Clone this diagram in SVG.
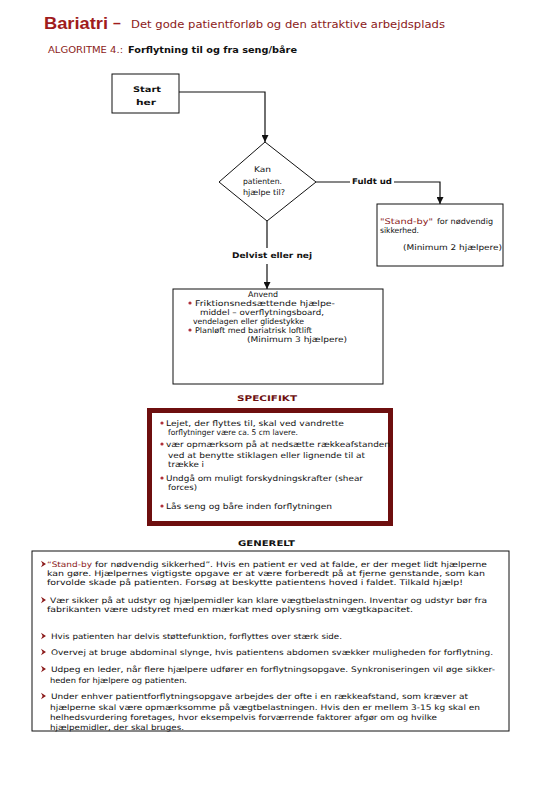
<svg xmlns="http://www.w3.org/2000/svg" width="540" height="794" viewBox="0 0 540 794">
<defs>
<style>
text{font-family:"DejaVu Sans","Verdana",sans-serif;fill:#111;}
.t{font-size:7.6px;}
.s{font-size:7.8px;}
.b{font-weight:bold;}
.red{fill:#8b1a1a;}
.box{fill:#fff;stroke:#111;stroke-width:1;}
.ln{fill:none;stroke:#111;stroke-width:1.2;}
.dot{fill:#b0303a;}
</style>
<marker id="ah" viewBox="0 0 10 10" refX="10" refY="5" markerWidth="7" markerHeight="7" markerUnits="userSpaceOnUse" orient="auto">
<path d="M0,0 L10,5 L0,10 z" fill="#111"/>
</marker>
<path id="arr" d="M0,-3.2 L5,0 L0,3.2 L1.6,0 z" fill="#8b1a1a"/>
</defs>
<rect width="540" height="794" fill="#fff"/>

<g id="title">
<text x="44" y="29" style="font-family:'Liberation Sans',Arial,sans-serif;font-size:17px;font-weight:bold;fill:#a01c1c" textLength="64" lengthAdjust="spacingAndGlyphs">Bariatri</text>
<text x="113" y="28" style="font-family:'Liberation Sans',Arial,sans-serif;font-size:14px;font-weight:bold;fill:#a01c1c">–</text>
<text x="131" y="28" class="red" style="font-size:11px" textLength="314" lengthAdjust="spacingAndGlyphs">Det gode patientforløb og den attraktive arbejdsplads</text>
<text x="48" y="53" class="red" style="font-size:8.5px" textLength="75" lengthAdjust="spacingAndGlyphs">ALGORITME 4.:</text>
<text x="128" y="53" class="b" style="font-size:8.5px" textLength="169" lengthAdjust="spacingAndGlyphs">Forflytning til og fra seng/båre</text>
</g>

<g id="connectors">
<polyline class="ln" points="179,92 265,92 265,142" marker-end="url(#ah)"/>
<polyline class="ln" points="316,182 350,182"/>
<polyline class="ln" points="394,182 440,182 440,204" marker-end="url(#ah)"/>
<polyline class="ln" points="267,221 267,248"/>
<polyline class="ln" points="267,264 267,289" marker-end="url(#ah)"/>
<text x="352" y="184" class="s b" textLength="40" lengthAdjust="spacingAndGlyphs">Fuldt ud</text>
<text x="232" y="258" class="s b" textLength="80" lengthAdjust="spacingAndGlyphs">Delvist eller nej</text>
</g>

<g id="start">
<rect class="box" x="112" y="74" width="67" height="39"/>
<text x="133" y="92" class="s b" textLength="28" lengthAdjust="spacingAndGlyphs">Start</text>
<text x="136" y="105" class="s b" textLength="20" lengthAdjust="spacingAndGlyphs">her</text>
</g>

<g id="decision">
<polygon class="box" points="265,142 316,182 267,221 219,182"/>
<text x="254" y="172" class="s" textLength="17" lengthAdjust="spacingAndGlyphs">Kan</text>
<text x="243" y="184" class="s" textLength="39" lengthAdjust="spacingAndGlyphs">patienten.</text>
<text x="243" y="195" class="s" textLength="42" lengthAdjust="spacingAndGlyphs">hjælpe til?</text>
</g>

<g id="standby">
<rect class="box" x="377" y="204" width="126" height="62"/>
<text x="380" y="224" class="s red" textLength="53" lengthAdjust="spacingAndGlyphs">"Stand-by"</text>
<text x="437" y="224" class="s" textLength="56" lengthAdjust="spacingAndGlyphs">for nødvendig</text>
<text x="380" y="233" class="s" textLength="39" lengthAdjust="spacingAndGlyphs">sikkerhed.</text>
<text x="403" y="250" class="s" textLength="99" lengthAdjust="spacingAndGlyphs">(Minimum 2 hjælpere)</text>
</g>

<g id="anvend">
<rect class="box" x="173" y="289" width="210" height="95"/>
<text x="248" y="297" class="s" textLength="30" lengthAdjust="spacingAndGlyphs">Anvend</text>
<circle class="dot" cx="190" cy="303" r="1.6"/>
<text x="195" y="306" class="s" textLength="140" lengthAdjust="spacingAndGlyphs">Friktionsnedsættende hjælpe-</text>
<text x="200" y="315" class="s" textLength="124" lengthAdjust="spacingAndGlyphs">middel – overflytningsboard,</text>
<text x="193" y="324" class="s" textLength="111" lengthAdjust="spacingAndGlyphs">vendelagen eller glidestykke</text>
<circle class="dot" cx="190" cy="330" r="1.6"/>
<text x="195" y="333" class="s" textLength="117" lengthAdjust="spacingAndGlyphs">Planløft med bariatrisk loftlift</text>
<text x="247" y="342" class="s" textLength="100" lengthAdjust="spacingAndGlyphs">(Minimum 3 hjælpere)</text>
</g>

<g id="specifikt">
<text x="237" y="401" class="s b" style="fill:#6e0f0f" textLength="60" lengthAdjust="spacingAndGlyphs">SPECIFIKT</text>
<rect x="149.5" y="410.5" width="241" height="113" fill="#fff" stroke="#6e0f0f" stroke-width="5"/>
<circle class="dot" cx="162" cy="423" r="1.6"/>
<text x="166" y="426" class="s" textLength="178" lengthAdjust="spacingAndGlyphs">Lejet, der flyttes til, skal ved vandrette</text>
<text x="168" y="435" class="s" textLength="130" lengthAdjust="spacingAndGlyphs">forflytninger være ca. 5 cm lavere.</text>
<circle class="dot" cx="162" cy="444" r="1.6"/>
<text x="166" y="447" class="s" textLength="224" lengthAdjust="spacingAndGlyphs">vær opmærksom på at nedsætte rækkeafstanden</text>
<text x="168" y="458" class="s" textLength="197" lengthAdjust="spacingAndGlyphs">ved at benytte stiklagen eller lignende til at</text>
<text x="168" y="467" class="s" textLength="36" lengthAdjust="spacingAndGlyphs">trække i</text>
<circle class="dot" cx="162" cy="478" r="1.6"/>
<text x="166" y="481" class="s" textLength="197" lengthAdjust="spacingAndGlyphs">Undgå om muligt forskydningskrafter (shear</text>
<text x="168" y="490" class="s" textLength="29" lengthAdjust="spacingAndGlyphs">forces)</text>
<circle class="dot" cx="162" cy="506" r="1.6"/>
<text x="166" y="509" class="s" textLength="166" lengthAdjust="spacingAndGlyphs">Lås seng og båre inden forflytningen</text>
</g>

<g id="generelt">
<text x="238" y="546" class="s b" textLength="57" lengthAdjust="spacingAndGlyphs">GENERELT</text>
<rect class="box" x="32" y="551" width="477" height="180"/>
<use href="#arr" x="41" y="564"/>
<text x="47" y="567" class="t red" textLength="45" lengthAdjust="spacingAndGlyphs">“Stand-by</text>
<text x="95" y="567" class="t" textLength="392" lengthAdjust="spacingAndGlyphs">for nødvendig sikkerhed”. Hvis en patient er ved at falde, er der meget lidt hjælperne</text>
<text x="47" y="576" class="t" textLength="438" lengthAdjust="spacingAndGlyphs">kan gøre. Hjælpernes vigtigste opgave er at være forberedt på at fjerne genstande, som kan</text>
<text x="47" y="585" class="t" textLength="416" lengthAdjust="spacingAndGlyphs">forvolde skade på patienten. Forsøg at beskytte patientens hoved i faldet. Tilkald hjælp!</text>
<use href="#arr" x="41" y="600"/>
<text x="50" y="603" class="t" textLength="437" lengthAdjust="spacingAndGlyphs">Vær sikker på at udstyr og hjælpemidler kan klare vægtbelastningen. Inventar og udstyr bør fra</text>
<text x="47" y="612" class="t" textLength="366" lengthAdjust="spacingAndGlyphs">fabrikanten være udstyret med en mærkat med oplysning om vægtkapacitet.</text>
<use href="#arr" x="41" y="636"/>
<text x="51" y="639" class="t" textLength="291" lengthAdjust="spacingAndGlyphs">Hvis patienten har delvis støttefunktion, forflyttes over stærk side.</text>
<use href="#arr" x="41" y="652"/>
<text x="51" y="655" class="t" textLength="442" lengthAdjust="spacingAndGlyphs">Overvej at bruge abdominal slynge, hvis patientens abdomen svækker muligheden for forflytning.</text>
<use href="#arr" x="41" y="669"/>
<text x="51" y="672" class="t" textLength="444" lengthAdjust="spacingAndGlyphs">Udpeg en leder, når flere hjælpere udfører en forflytningsopgave. Synkroniseringen vil øge sikker-</text>
<text x="50" y="683" class="t" textLength="137" lengthAdjust="spacingAndGlyphs">heden for hjælpere og patienten.</text>
<use href="#arr" x="41" y="696"/>
<text x="51" y="699" class="t" textLength="417" lengthAdjust="spacingAndGlyphs">Under enhver patientforflytningsopgave arbejdes der ofte i en rækkeafstand, som kræver at</text>
<text x="50" y="710" class="t" textLength="430" lengthAdjust="spacingAndGlyphs">hjælperne skal være opmærksomme på vægtbelastningen. Hvis den er mellem 3-15 kg skal en</text>
<text x="50" y="720" class="t" textLength="387" lengthAdjust="spacingAndGlyphs">helhedsvurdering foretages, hvor eksempelvis forværrende faktorer afgør om og hvilke</text>
<text x="50" y="730" class="t" textLength="134" lengthAdjust="spacingAndGlyphs">hjælpemidler, der skal bruges.</text>
</g>
</svg>
